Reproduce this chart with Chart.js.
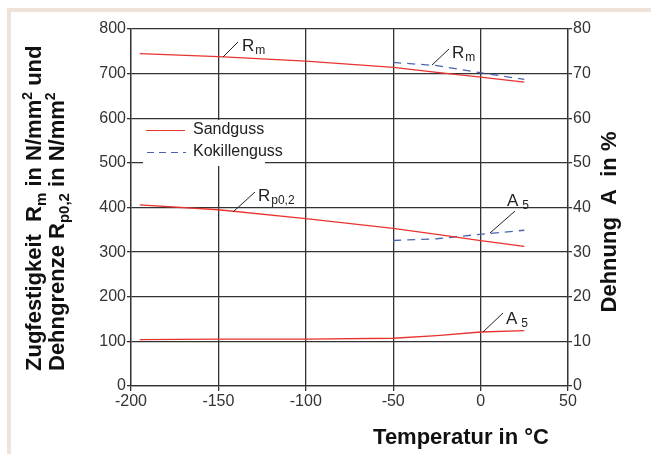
<!DOCTYPE html>
<html>
<head>
<meta charset="utf-8">
<script src="https://cdn.jsdelivr.net/npm/chart.js@4.4.1/dist/chart.umd.min.js"></script>
<style>
  html, body { margin: 0; padding: 0; background: #fff; }
  #wrap { position: relative; width: 651px; height: 454px; }
</style>
</head>
<body>
<div id="wrap"><canvas id="chart" width="651" height="454"></canvas></div>
<script>
// temperatures in °C
const tempSand = [-195, -150, -100, -50, -25, 0, 25];
const tempKokille = [-50, -25, 0, 25];

// Sandguss (red)
const rmSand = [745, 738, 728, 714, 703, 692, 681];
const rp02Sand = [406, 395, 375, 353, 340, 326, 313];
const a5Sand = [10.4, 10.5, 10.5, 10.7, 11.3, 12.1, 12.4];

// Kokillenguss (blue dashed)
const rmKokille = [725, 718, 702, 687];
const a5Kokille = [32.6, 33.0, 34.0, 34.9];

const xTicks = [-200, -150, -100, -50, 0, 50];

const red = '#e8332f';
const blue = '#4b63b0';
const tickFont = "'Liberation Sans Narrow', 'Arial Narrow', 'Liberation Sans', sans-serif";
const boldFont = "'Liberation Sans', Arial, sans-serif";

function pts(xs, ys) {
  return xs.map((x, i) => ({ x: x, y: ys[i] }));
}

// draws frame, legend, annotations and axis titles
const decorPlugin = {
  id: 'decor',
  beforeDraw(chart) {
    const c = chart.ctx;
    c.save();
    c.fillStyle = '#fff';
    c.fillRect(0, 0, chart.width, chart.height);
    c.fillStyle = '#efe2d8';
    c.fillRect(8, 8, chart.width - 8, 4);
    c.fillRect(7, 8, 4, chart.height - 8);
    c.restore();
  },
  afterDraw(chart) {
    const c = chart.ctx;
    c.save();

    // legend box
    c.fillStyle = '#fff';
    c.fillRect(143, 120, 122, 46);
    c.lineWidth = 1.2;
    c.strokeStyle = red;
    c.beginPath(); c.moveTo(146, 130.5); c.lineTo(185, 130.5); c.stroke();
    c.strokeStyle = blue;
    c.setLineDash([7, 5]);
    c.beginPath(); c.moveTo(147, 152.5); c.lineTo(186, 152.5); c.stroke();
    c.setLineDash([]);
    c.fillStyle = '#222';
    c.font = "16px " + tickFont;
    c.textBaseline = 'middle';
    c.fillText('Sandguss', 193, 130);
    c.fillText('Kokillenguss', 193, 152);

    // annotation leaders and labels
    c.strokeStyle = '#222';
    c.lineWidth = 1;
    function leader(x1, y1, x2, y2) {
      c.beginPath(); c.moveTo(x1, y1); c.lineTo(x2, y2); c.stroke();
    }
    function label(x, y, main, sub, gap) {
      c.font = "17px " + tickFont;
      c.textBaseline = 'alphabetic';
      c.fillText(main, x, y);
      const w = c.measureText(main).width;
      c.font = "12px " + tickFont;
      c.fillText(sub, x + w + (gap || 1), y + 3);
    }
    leader(223, 57, 238, 42);
    label(242, 51, 'R', 'm');
    leader(432, 65, 449, 49);
    label(452, 58, 'R', 'm');
    leader(233, 212, 255, 192);
    label(258, 201, 'R', 'p0,2');
    leader(490, 233, 515, 211);
    label(507, 206, 'A', '5', 4);
    leader(483, 332, 503, 313);
    label(506, 324, 'A', '5', 4);

    // axis titles
    c.fillStyle = '#111';
    c.font = "bold 22px " + boldFont;
    c.textAlign = 'center';
    c.textBaseline = 'alphabetic';
    c.fillText('Temperatur in \u00B0C', 461, 444);

    // right title
    c.save();
    c.translate(616, 222);
    c.rotate(-Math.PI / 2);
    c.fillText('Dehnung  A  in %', 0, 0);
    c.restore();

    // left title, two lines with subscripts, both starting at the bottom
    function fontFor(p) {
      return p.sub ? "bold 15px " + boldFont : (p.sup ? "bold 14px " + boldFont : "bold 22px " + boldFont);
    }
    function rich(parts, cx, startY) {
      c.save();
      c.translate(cx, startY);
      c.rotate(-Math.PI / 2);
      c.textAlign = 'left';
      let x = 0;
      parts.forEach(p => {
        c.font = fontFor(p);
        const dy = p.sub ? 5 : (p.sup ? -9 : 0);
        c.fillText(p.t, x, dy);
        x += c.measureText(p.t).width;
      });
      c.restore();
    }
    rich([
      { t: 'Zugfestigkeit  R' }, { t: 'm', sub: true }, { t: ' in N/mm' }, { t: '2', sup: true }, { t: ' und' }
    ], 41, 371);
    rich([
      { t: 'Dehngrenze R' }, { t: 'p0,2', sub: true }, { t: ' in N/mm' }, { t: '2', sup: true }
    ], 64, 371);

    c.restore();
  }
};

const ctx = document.getElementById('chart').getContext('2d');
const chart = new Chart(ctx, {
  type: 'line',
  data: {
    datasets: [
      { label: 'Rm Sandguss', data: pts(tempSand, rmSand), borderColor: red, yAxisID: 'y' },
      { label: 'Rp0,2 Sandguss', data: pts(tempSand, rp02Sand), borderColor: red, yAxisID: 'y' },
      { label: 'A5 Sandguss', data: pts(tempSand, a5Sand), borderColor: red, yAxisID: 'y2' },
      { label: 'Rm Kokillenguss', data: pts(tempKokille, rmKokille), borderColor: blue, borderDash: [8, 6], yAxisID: 'y' },
      { label: 'A5 Kokillenguss', data: pts(tempKokille, a5Kokille), borderColor: blue, borderDash: [8, 6], yAxisID: 'y2' }
    ]
  },
  options: {
    responsive: false,
    animation: false,
    parsing: false,
    layout: { padding: { top: 29, left: 0, right: 0, bottom: 0 } },
    elements: {
      point: { radius: 0 },
      line: { borderWidth: 1.3, tension: 0, fill: false }
    },
    plugins: {
      legend: { display: false },
      tooltip: { enabled: false }
    },
    scales: {
      x: {
        type: 'linear',
        min: -200, max: 50,
        afterBuildTicks: axis => { axis.ticks = xTicks.map(v => ({ value: v })); },
        afterFit: axis => { axis.height = 68; },
        grid: { color: '#333', lineWidth: 1.3, tickLength: 5, drawTicks: true },
        border: { color: '#333', width: 1.3 },
        ticks: { color: '#333', font: { family: tickFont, size: 16 }, padding: 1, maxRotation: 0 }
      },
      y: {
        position: 'left',
        min: 0, max: 800,
        afterFit: axis => { axis.width = 131; },
        grid: { color: '#333', lineWidth: 1.3, tickLength: 4 },
        border: { color: '#333', width: 1.3 },
        ticks: { stepSize: 100, color: '#333', font: { family: tickFont, size: 16 }, padding: 1 }
      },
      y2: {
        position: 'right',
        min: 0, max: 80,
        afterFit: axis => { axis.width = 83; },
        grid: { drawOnChartArea: false, color: '#333', lineWidth: 1.3, tickLength: 4 },
        border: { color: '#333', width: 1.3 },
        ticks: { stepSize: 10, color: '#333', font: { family: tickFont, size: 16 }, padding: 1 }
      }
    }
  },
  plugins: [decorPlugin]
});
</script>
</body>
</html>
